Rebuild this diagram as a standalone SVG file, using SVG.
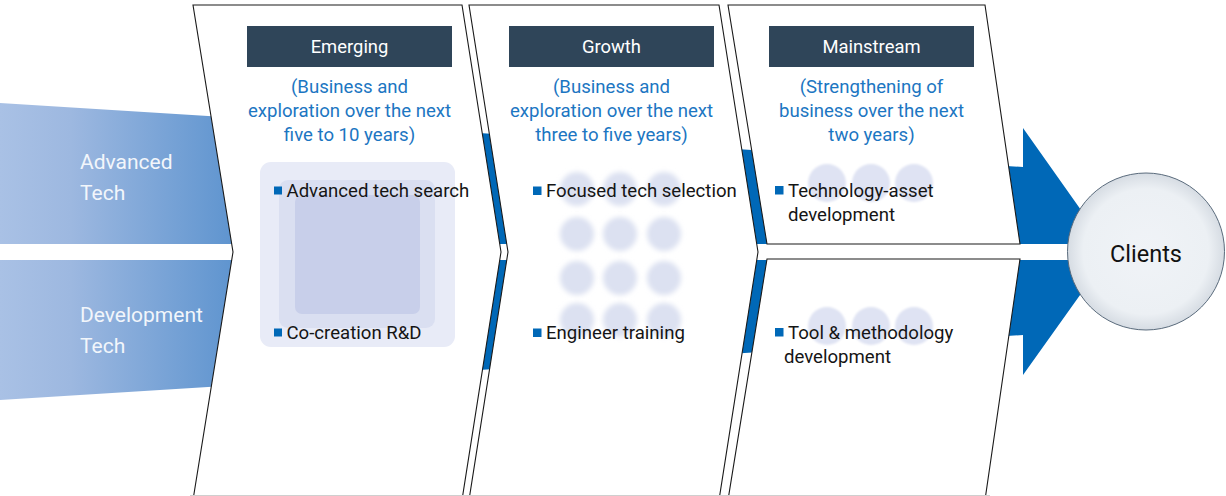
<svg xmlns="http://www.w3.org/2000/svg" width="1226" height="496" viewBox="0 0 1226 496">
<defs>
<linearGradient id="leftGrad" x1="0" y1="0" x2="235" y2="0" gradientUnits="userSpaceOnUse">
<stop offset="0" stop-color="#A9C1E5"/>
<stop offset="0.3" stop-color="#9DB8E0"/>
<stop offset="1" stop-color="#5E94CF"/>
</linearGradient>
<radialGradient id="clientGrad" cx="0.5" cy="0.5" r="0.5">
<stop offset="0" stop-color="#F0F3F7"/>
<stop offset="0.8" stop-color="#ECF0F4"/>
<stop offset="1" stop-color="#D6DCE3"/>
</radialGradient>
<filter id="soft" x="-50%" y="-50%" width="200%" height="200%">
<feGaussianBlur stdDeviation="2.6"/>
</filter>
<filter id="soft2" x="-50%" y="-50%" width="200%" height="200%">
<feGaussianBlur stdDeviation="0.8"/>
</filter>
<style>
.panel{fill:#FFFFFF;stroke:#1A1A1A;stroke-width:1.1}
.hdr{fill:#2F4559}
.hdrT{font-family:Roboto,'Liberation Sans',sans-serif;font-size:18.4px;fill:#FFFFFF;text-anchor:middle}
.sub{font-family:Roboto,'Liberation Sans',sans-serif;font-size:18.6px;fill:#1C76C2;text-anchor:middle}
.bul{font-family:Roboto,'Liberation Sans',sans-serif;font-size:18.6px;fill:#151515}
.sq{fill:#0068B7}
.side{font-family:Roboto,'Liberation Sans',sans-serif;font-size:21px;fill:#F2F6FB}
.dot{fill:#DCE1F1;filter:url(#soft)}
.dot3{fill:#DFE3F3;filter:url(#soft2)}
.band{fill:#0068B7}
</style>
</defs>
<rect width="1226" height="496" fill="#FFFFFF"/>

<g id="connectors">
<polygon points="0,103 240,118 240,244 0,244" fill="url(#leftGrad)"/>
<polygon points="0,260 240,260 240,385 0,400" fill="url(#leftGrad)"/>
<polygon class="band" points="440,130.5 1023,167 1023,128 1105,244 440,244"/>
<polygon class="band" points="440,260 1105,260 1023,375 1023,335 440,372.5"/>
</g>

<g id="side-labels">
<text class="side" x="80" y="169">Advanced</text>
<text class="side" x="80" y="200">Tech</text>
<text class="side" x="80" y="322">Development</text>
<text class="side" x="80" y="353">Tech</text>
</g>

<g id="panel-emerging">
<polygon class="panel" points="193,5 462,5 501,252 462,500 193,500 233,252"/>
<rect class="hdr" x="247" y="26" width="205" height="41"/>
<text class="hdrT" x="349.5" y="53">Emerging</text>
<text class="sub" x="349.5" y="93">(Business and</text>
<text class="sub" x="349.5" y="117">exploration over the next</text>
<text class="sub" x="349.5" y="141">five to 10 years)</text>
<rect x="260" y="162" width="195" height="185" rx="11" fill="#E8EBF7"/>
<rect x="279" y="180" width="156" height="148" rx="9" fill="#DADFF1"/>
<rect x="295" y="195" width="125" height="119" rx="7" fill="#C8CFEA"/>
<rect class="sq" x="274" y="186.5" width="8" height="8"/>
<text class="bul" x="286.5" y="197">Advanced tech search</text>
<rect class="sq" x="274" y="328.5" width="8" height="8"/>
<text class="bul" x="286.5" y="339">Co-creation R&amp;D</text>
</g>

<g id="panel-growth">
<polygon class="panel" points="469,5 719,5 758,252 719,500 469,500 508,252"/>
<rect class="hdr" x="509" y="26" width="205" height="41"/>
<text class="hdrT" x="611.5" y="53">Growth</text>
<text class="sub" x="611.5" y="93">(Business and</text>
<text class="sub" x="611.5" y="117">exploration over the next</text>
<text class="sub" x="611.5" y="141">three to five years)</text>
<g>
<circle class="dot" cx="577" cy="189" r="17"/>
<circle class="dot" cx="620" cy="189" r="17"/>
<circle class="dot" cx="664" cy="189" r="17"/>
<circle class="dot" cx="577" cy="234" r="17"/>
<circle class="dot" cx="620" cy="234" r="17"/>
<circle class="dot" cx="664" cy="234" r="17"/>
<circle class="dot" cx="577" cy="278" r="17"/>
<circle class="dot" cx="620" cy="278" r="17"/>
<circle class="dot" cx="664" cy="278" r="17"/>
<circle class="dot" cx="577" cy="320" r="17"/>
<circle class="dot" cx="620" cy="320" r="17"/>
<circle class="dot" cx="664" cy="320" r="17"/>
</g>
<rect class="sq" x="533" y="186.5" width="8.5" height="8.5"/>
<text class="bul" x="546" y="197">Focused tech selection</text>
<rect class="sq" x="533" y="328.5" width="8.5" height="8.5"/>
<text class="bul" x="546" y="339">Engineer training</text>
</g>

<g id="panel-mainstream">
<polygon class="panel" points="728,5 985,5 1020,244 767,244"/>
<polygon class="panel" points="767,259 1020,259 985,500 728,500"/>
<rect class="hdr" x="769" y="26" width="205" height="41"/>
<text class="hdrT" x="871.5" y="53">Mainstream</text>
<text class="sub" x="871.5" y="93">(Strengthening of</text>
<text class="sub" x="871.5" y="117">business over the next</text>
<text class="sub" x="871.5" y="141">two years)</text>
<circle class="dot3" cx="827" cy="183" r="19"/>
<circle class="dot3" cx="871" cy="183" r="19"/>
<circle class="dot3" cx="914" cy="183" r="19"/>
<circle class="dot3" cx="827" cy="326" r="19"/>
<circle class="dot3" cx="871" cy="326" r="19"/>
<circle class="dot3" cx="914" cy="326" r="19"/>
<rect class="sq" x="775" y="186" width="8.5" height="8.5"/>
<text class="bul" x="788" y="197">Technology-asset</text>
<text class="bul" x="788" y="221">development</text>
<rect class="sq" x="775" y="328" width="8.5" height="8.5"/>
<text class="bul" x="788" y="339">Tool &amp; methodology</text>
<text class="bul" x="784" y="363">development</text>
</g>

<line x1="190" y1="495.5" x2="990" y2="495.5" stroke="#CFCFCF" stroke-width="1"/>

<g id="node-clients">
<circle cx="1146" cy="251.5" r="78.5" fill="url(#clientGrad)" stroke="#5A6B7C" stroke-width="1"/>
<text x="1146" y="262" font-family="Roboto,'Liberation Sans',sans-serif" font-size="23.5" fill="#111111" text-anchor="middle">Clients</text>
</g>
</svg>
